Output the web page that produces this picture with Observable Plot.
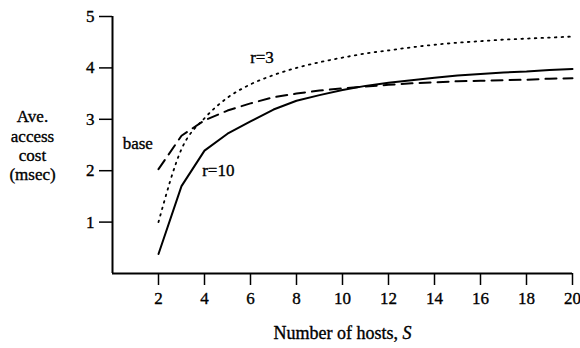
<!DOCTYPE html>
<html>
<head>
<meta charset="utf-8">
<script src="https://cdn.jsdelivr.net/npm/d3@7"></script>
<script src="https://cdn.jsdelivr.net/npm/@observablehq/plot@0.6"></script>
<style>
  html, body { margin: 0; padding: 0; background: #fff; }
  svg text, svg tspan { font-family: "Liberation Serif", "Times New Roman", serif !important; }
</style>
</head>
<body>
<div id="chart"></div>
<script>
// Number of hosts
const hosts = [2, 3, 4, 5, 6, 7, 8, 9, 10, 11, 12, 13, 14, 15, 16, 17, 18, 19, 20];
// Ave. access cost (msec)
const r10 = [0.38, 1.70, 2.39, 2.72, 2.96, 3.19, 3.36, 3.47, 3.57, 3.65, 3.71, 3.76, 3.81, 3.85, 3.88, 3.91, 3.93, 3.96, 3.98];
const baseCost = [2.03, 2.68, 2.98, 3.17, 3.31, 3.43, 3.50, 3.56, 3.60, 3.64, 3.67, 3.70, 3.72, 3.74, 3.75, 3.76, 3.77, 3.79, 3.80];
const r3 = [1.00, 2.42, 3.02, 3.42, 3.68, 3.86, 4.00, 4.11, 4.20, 4.28, 4.34, 4.40, 4.45, 4.49, 4.52, 4.55, 4.57, 4.59, 4.61];

const xTicks = [2, 4, 6, 8, 10, 12, 14, 16, 18, 20];
const yTicks = [1, 2, 3, 4, 5];

// curve annotations
const noteText = ["r=3", "base", "r=10"];
const noteX = [6.5, 1.1, 4.6];
const noteY = [4.2, 2.53, 2.0];

const toRows = (vals) => hosts.map((s, i) => ({S: s, v: vals[i]}));
const notes = noteText.map((t, i) => ({t, x: noteX[i], y: noteY[i]}));

const font = "Liberation Serif";
const fs = 17;
const ink = {fill: "black", stroke: "black", strokeWidth: 0.35, fontFamily: font};

const chart = Plot.plot({
  width: 580,
  height: 348,
  marginLeft: 112,
  marginRight: 8,
  marginTop: 16,
  marginBottom: 75,
  x: {domain: [0, 20]},
  y: {domain: [0, 5]},
  style: {fontFamily: font, fontSize: "17px", color: "black", background: "white"},
  marks: [
    Plot.axisX(xTicks, {tickSize: 12, tickPadding: 6, label: null, strokeWidth: 1.5, fontSize: fs, fontFamily: font, tickFormat: "d"}),
    Plot.axisY(yTicks, {tickSize: 13, tickPadding: 5, label: null, strokeWidth: 1.5, fontSize: fs, fontFamily: font, tickFormat: "d"}),
    Plot.ruleX([0], {y1: 0, y2: 5, stroke: "black", strokeWidth: 2}),
    Plot.ruleY([0], {x1: 0, x2: 20, stroke: "black", strokeWidth: 2}),
    Plot.line(toRows(r3), {x: "S", y: "v", stroke: "black", strokeWidth: 1.8, strokeDasharray: "1.6,5.1", strokeLinecap: "round", curve: "monotone-x"}),
    Plot.line(toRows(baseCost), {x: "S", y: "v", stroke: "black", strokeWidth: 2, strokeDasharray: "11,7"}),
    Plot.line(toRows(r10), {x: "S", y: "v", stroke: "black", strokeWidth: 2}),
    Plot.text(notes, {x: "x", y: "y", text: "t", fontSize: fs, ...ink}),
    Plot.text(["Ave.\naccess\ncost\n(msec)"], {frameAnchor: "left", dx: -80, textAnchor: "middle", lineHeight: 1.14, fontSize: fs, ...ink}),
    Plot.text(["Number of hosts, S"], {frameAnchor: "bottom", dy: 65, fontSize: 18, ...ink})
  ]
});

d3.select(chart).selectAll("text")
  .filter(function() { return this.textContent === "Number of hosts, S"; })
  .each(function() {
    const t = d3.select(this);
    t.text("Number of hosts, ");
    t.append("tspan").attr("font-style", "italic").text("S");
  });

// slightly heavier tick labels to match the scanned look
d3.select(chart).selectAll("g[aria-label='x-axis tick label'] text, g[aria-label='y-axis tick label'] text")
  .attr("stroke", "black").attr("stroke-width", 0.35);

document.getElementById("chart").appendChild(chart);
</script>
</body>
</html>
